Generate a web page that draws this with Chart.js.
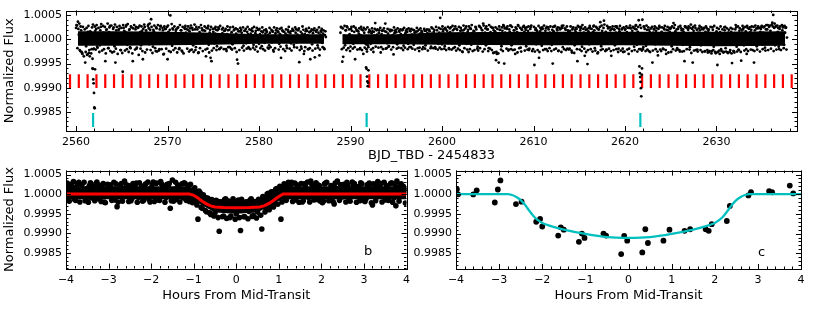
<!DOCTYPE html>
<html>
<head>
<meta charset="utf-8">
<script src="https://cdn.jsdelivr.net/npm/chart.js@4.4.1/dist/chart.umd.min.js"></script>
<style>
  body { margin: 0; background: #fff; width: 830px; height: 312px; position: relative; overflow: hidden; }
  canvas { position: absolute; }
</style>
</head>
<body>
<canvas id="lc" width="830" height="163" style="left:0;top:0"></canvas>
<canvas id="foldB" width="415" height="152" style="left:0;top:160px"></canvas>
<canvas id="foldC" width="425" height="152" style="left:405px;top:160px"></canvas>
<script>
// tick labels
const fluxTicks = [0.9985, 0.999, 0.9995, 1.0, 1.0005];
const bjdTicks = [2560, 2570, 2580, 2590, 2600, 2610, 2620, 2630];
const hourTicks = [-4, -3, -2, -1, 0, 1, 2, 3, 4];

// light curve, flux - 1 in units of 1e-5, one value per 0.1 d
const cadence = 0.1;
const startA = 2560.0;
const fluxA = [
  24, 29, 37, 10, -22, 27, -26, -30, 6, -8,
  -48, -14, -32, 16, -28, -35, 8, -20, -40, -20,
  -8, 18, 22, -15, 12, 5, -12, 26, 8, -4,
  14, -5, -45, 20, 9, -18, 15, 28, -6, 11,
  3, 25, -14, -48, 19, 7, -9, 22, 13, -22,
  10, -67, 24, -3, 16, 30, -11, 8, 20, -16,
  27, -6, -45, 12, 4, 21, -19, 9, 25, -2,
  15, -12, 18, -41, 7, 26, -8, 14, 2, 31,
  -10, 20, 42, 5, -15, 17, 11, -24, 23, 0,
  8, -20, 27, 13, -5, 19, -30, 10, 22, -9,
  -41, 16, 4, 50, 12, -13, 21, -4, 9, 18,
  -7, 24, 11, -18, 6, 19, -25, 13, 1, 22,
  14, -9, 20, -3, 17, -22, 8, 24, -12, 5,
  21, -16, 10, 2, -27, 15, 7, -5, 19, 11,
  -2, 18, -35, 9, 23, -11, 14, -38, -45, 6,
  16, -8, 12, 20, -14, 3, 22, -19, 10, -1,
  13, -6, 18, 7, -20, 11, 19, -3, -16, 9,
  15, -10, 4, 21, -7, 12, -42, -50, 8, 17,
  -4, 14, 9, -13, 18, 2, -8, 16, 11, -18,
  7, 12, -5, 17, -11, 4, 13, -15, 9, 20,
  -9, 11, 6, -14, 15, 3, -7, 12, 18, -4,
  10, -12, 14, 1, -6, 16, -25, 8, 13, -3,
  5, 15, -9, 11, -38, 7, 17, -5, 2, 12,
  -13, 9, 16, -2, 13, -8, 6, 19, -11, 4,
  14, -6, 10, 20, -47, 3, -15, 12, 8, -30,
  11, 17, -4, 9, -20, 15, -41, 6, -10, 13,
  2, -37, 18, 7, -12, 14, -33, 10, 16, -7,
  12, -18, 9, 5
];
// second set of points, offset by half a cadence
const startEdgeA = 2560.05;
const edgeA = [
  30, -18, 22, 33, -24, 19, -28, 26, -35, 21,
  -26, 24, -31, 28, -22, 17, -29, 25, 31, -19,
  27, -21, 30, -17, 24, -26, 19, 32, -23, 28,
  -20, 26, -29, 21, 33, -18, 25, -24, 29, -27,
  22, -25, 31, -19, 26, -30, 20, 28, -22, 24,
  -28, 30, 18, -23, 27, -20, 32, -26, 21, -18,
  25, -29, 23, 30, -21, 26, -17, 24, -32, 29,
  -19, 27, -24, 22, 31, -27, 19, -21, 28, 23,
  33, -22, 26, -28, 20, 29, -18, 25, -25, 30,
  -23, 21, 28, -20, 24, -31, 27, 22, -19, 26,
  29, -24, 20, -26, 32, 23, -22, 27, -18, 21,
  -27, 25, -20, 30, 19, -23, 26, -29, 24, 28,
  22, -19, 27, -25, 23, 29, -21, 20, -26, 31,
  -22, 26, 21, -28, 25, -18, 30, 23, -24, 19,
  27, -21, 24, -19, 28, -27, 20, 26, -23, 22,
  -18, 23, 26, -22, 19, 25, -20, 28, -17, 21,
  24, -20, 18, 22, -24, 27, -16, 20, 25, -19,
  -21, 26, 19, -18, 23, -26, 21, 17, -22, 24,
  20, -17, 25, -23, 18, 22, -19, 26, -16, 21,
  -20, 19, 23, -17, 26, -21, 18, 24, -25, 20,
  22, -18, 17, 25, -20, 19, -23, 21, 16, -17,
  -19, 24, -16, 20, 18, -22, 25, -18, 19, 23,
  17, -21, 22, -15, 24, 19, -20, 16, -24, 21,
  -18, 20, 26, -19, 17, -23, 22, 18, -16, 25,
  21, -17, 19, 23, -22, 16, -19, 27, 20, -24,
  -16, 22, 18, -20, 24, -18, 17, 21, -23, 19,
  23, -19, 16, 20, -17, 25, -21, 18, 22, -16,
  19, -20, 17
];
const startB = 2588.9;
const fluxB = [
  14, 25, -46, -36, 8, -12, 19, 27, 5, -3,
  11, -15, 26, 7, -9, 16, -41, 3, 18, -6,
  12, -20, 9, 21, -4, -30, 14, 2, -10, -25,
  -12, 15, 6, -9, 13, 17, -26, 8, 34, -3,
  10, -7, 14, 3, -27, 11, 19, -5, 7, 33,
  16, -8, 12, -14, 5, 20, -3, 9, -31, 13,
  2, 15, -10, 8, 18, -6, 11, -2, 21, -13,
  7, 13, -5, 16, -9, 4, 19, -16, 10, 1,
  -11, 14, 6, -4, 17, 9, -24, 12, 3, 15,
  -7, 10, 18, -12, 5, 13, -3, 20, 8, -15,
  12, -6, 16, 2, -19, 11, 7, -9, 14, 45,
  4, -10, 17, 9, -14, 21, 6, -3, 13, -20,
  15, 3, -8, 19, 11, -16, 8, 22, -5, 12,
  -12, 18, 6, -25, 14, 20, -4, 10, -9, 16,
  -26, 7, 23, -11, 13, 1, 17, -7, 25, 9,
  -15, 12, 27, 4, -9, 19, 33, -3, 14, -12,
  8, 21, -18, 11, 15, -6, 24, -28, 6, 17,
  -43, -30, 12, -48, 20, 9, -14, 18, 30, -50,
  14, -8, 22, 5, -21, 16, 29, -12, 10, 3,
  19, -30, 8, 15, 30, -5, 12, -17, 21, 7,
  -9, 16, 24, -14, 3, 18, -22, 11, 26, -4,
  13, 6, -53, 20, -10, 15, 2, -38, 17, 9,
  -13, 22, 11, -6, 18, -20, 8, 25, -2, 14,
  6, -11, -50, 17, 27, -7, 12, 19, -24, 4,
  21, 9, 28, -16, 13, -4, 20, 7, -19, 15,
  -3, 18, 10, -27, 24, 5, -12, 16, 22, -45,
  11, -8, 19, 26, -15, 8, 14, -34, 20, 2,
  -51, 17, -10, 23, 12, -6, 15, 29, -18, 9,
  13, -29, 21, 7, 36, -14, 18, 4, 39, -9,
  16, -22, 10, 25, -5, 19, -34, 12, 8, 21,
  -12, 14, 27, 3, -19, 17, 9, -7, 23, -26,
  11, 20, -9, 15, 6, -30, 24, 13, -4, 18,
  8, -15, 22, 30, -11, 16, 40, 5, -20, 12,
  41, -16, 26, 9, -13, 20, 7, -24, 15, 11,
  -6, -48, 14, 22, -10, 18, 3, -33, 12, 25,
  -9, 16, 8, -20, 21, 13, -30, 6, 19, -4,
  15, 24, -14, 10, 34, -7, 17, 2, -18, 22,
  12, -25, 9, 19, -11, 16, -45, 27, 5, -8,
  20, 13, -16, 31, 8, -48, 18, -3, 24, 10,
  -21, 14, 6, 19, -12, 22, -4, 11, -25, 16,
  9, -22, 18, -26, 13, 4, -24, 20, -15, 7,
  -28, 17, -53, 10, -23, 15, -20, 5, 12, -26,
  19, -18, 8, -27, 14, 2, -22, 16, -49, 11,
  -24, 13, 30, -15, 9, -21, 18, 6, -44, 14,
  21, -12, 7, 17, -30, 24, 3, -9, 15, 20,
  -6, 12, -48, 19, 8, -14, 23, 11, -3, 16,
  26, -10, 14, 5, -17, 21, 9, 30, -5, 13,
  18, -8, 35, 51, 24, -12, 28, 7, 16, -15,
  22, 10, -6, 19, 27, -11, 14, 25, 4
];
const startEdgeB = 2588.95;
const edgeB = [
  26, -20, 23, -17, 28, 19, -22, 25, -18, 21,
  -24, 22, 18, -19, 27, -16, 24, 20, -21, 17,
  23, -18, 26, -22, 19, 24, -17, 21, -20, 25,
  -16, 20, 17, -21, 23, -18, 16, 22, -15, 19,
  21, -17, 19, 24, -16, 18, -20, 23, 17, -19,
  -18, 22, -15, 20, 17, -21, 19, -16, 25, 18,
  20, -19, 23, -17, 16, 21, -18, 19, -22, 24,
  -17, 18, 21, -20, 23, -16, 17, 22, -19, 20,
  19, -21, 16, 24, -18, 20, -17, 23, 18, -20,
  -16, 22, -19, 18, 21, -23, 20, 17, -18, 25,
  23, -18, 20, -16, 26, 19, -21, 24, -17, 22,
  -20, 27, 21, -19, 24, -22, 18, 26, -18, 23,
  25, -21, 28, -18, 22, 27, -23, 20, -19, 26,
  -22, 24, 19, -26, 29, -18, 23, 27, -21, 20,
  27, -20, 22, 30, -24, 18, -22, 26, 21, -19,
  -23, 28, -18, 24, 20, -25, 29, -20, 23, 27,
  21, -24, 30, -19, 26, -22, 24, 19, -27, 25,
  -26, 22, -29, 27, 20, -21, 25, -24, 28, 23,
  24, -19, 27, -23, 21, 29, -20, 26, -22, 19,
  -21, 25, 22, -27, 28, -18, 24, -25, 20, 26,
  28, -23, 20, 25, -21, 27, -19, 22, 29, -24,
  -20, 26, -25, 23, 19, -22, 28, -26, 24, 21,
  25, -22, 29, -20, 23, 26, -24, 21, -18, 27,
  -24, 20, 26, -21, 28, -19, 22, 25, -23, 24,
  22, -26, 24, 29, -20, 23, -22, 27, 19, -21,
  -19, 27, -23, 21, 25, -28, 20, 24, -20, 28,
  26, -21, 23, -24, 30, 22, -19, 25, -26, 21,
  -22, 24, 28, -20, 22, -25, 27, 19, -23, 26,
  23, -27, 21, 26, -22, 29, -20, 24, 31, -24,
  -21, 28, 23, -19, 25, -24, 22, 27, -22, 20,
  27, -20, 24, -26, 22, 28, -23, 21, -19, 25,
  -25, 22, 27, -21, 24, -19, 29, 23, -24, 26,
  24, -22, 28, 21, -25, 26, -20, 30, 24, -23,
  -20, 27, 22, -24, 29, -21, 25, 20, -26, 23,
  26, -23, 21, 27, -20, 24, -25, 22, 28, -21,
  -24, 25, -19, 23, 28, -22, 20, 26, -27, 24,
  22, -26, 27, -20, 24, 30, -23, 21, -21, 26,
  -22, 28, 23, -25, 21, -24, 27, 25, -20, 23,
  27, -21, 24, -28, 22, 26, -23, 29, -22, 20,
  -25, 23, 28, -22, 25, -26, 21, 24, -24, 27,
  23, -27, 21, -24, 26, -29, 25, -22, 28, -26,
  -28, 24, -26, 22, -30, 27, -24, 21, -27, 25,
  26, -25, 23, -28, 20, -26, 24, -29, 22, -24,
  -27, 21, 25, -25, 27, -22, 23, -26, 20, 28,
  24, -23, 26, -20, 28, -24, 22, 25, -21, 27,
  -22, 26, -24, 29, 23, -21, 27, 24, -25, 22,
  28, -20, 25, 27, -23, 30, 21, -22, 26, 29,
  -19, 31, 27, -24, 33, 26, -21, 29, 24, -20,
  27, -22, 30, 25, -18, 28, 24, -21
];
// dense core of the cloud (upper / lower edge, same units)
const coreTimesA = [2560.2, 2562.0, 2565.0, 2570.0, 2575.0, 2580.0, 2587.1];
const coreHiA = [17, 17, 17, 16, 14, 11, 11];
const coreLoA = [-13, -13, -13, -12, -11, -9, -9];
const coreTimesB = [2589.1, 2595.0, 2600.0, 2610.0, 2620.0, 2630.0, 2637.5];
const coreHiB = [11, 11, 15, 16, 16, 16, 17];
const coreLoB = [-10, -10, -11, -12, -12, -14, -13];

// in-transit points of planet c
const transitTimes = [2561.80, 2561.84, 2561.88, 2561.92, 2561.96, 2562.00, 2562.03, 2562.07,
  2591.70, 2591.75, 2591.80, 2591.84, 2591.88, 2591.92, 2591.96,
  2621.58, 2621.62, 2621.66, 2621.70, 2621.74, 2621.78, 2621.82, 2621.86];
const transitFlux = [-60, -61, -83, -91, -111, -141, -143, -62,
  -58, -61, -77, -87, -97, -90, -64,
  -56, -70, -78, -88, -101, -118, -73, -60];

// transit epochs (BJD_TBD - 2454833)
const bTransits = [2559.34, 2560.30, 2561.26, 2562.23, 2563.19, 2564.15, 2565.11, 2566.07, 2567.04, 2568.00,
  2568.96, 2569.92, 2570.88, 2571.85, 2572.81, 2573.77, 2574.73, 2575.69, 2576.66, 2577.62,
  2578.58, 2579.54, 2580.50, 2581.47, 2582.43, 2583.39, 2584.35, 2585.31, 2586.28, 2587.24,
  2588.20, 2589.16, 2590.12, 2591.09, 2592.05, 2593.01, 2593.97, 2594.93, 2595.90, 2596.86,
  2597.82, 2598.78, 2599.74, 2600.71, 2601.67, 2602.63, 2603.59, 2604.55, 2605.52, 2606.48,
  2607.44, 2608.40, 2609.36, 2610.33, 2611.29, 2612.25, 2613.21, 2614.17, 2615.14, 2616.10,
  2617.06, 2618.02, 2618.98, 2619.95, 2620.91, 2621.87, 2622.83, 2623.79, 2624.76, 2625.72,
  2626.68, 2627.64, 2628.60, 2629.57, 2630.53, 2631.49, 2632.45, 2633.41, 2634.38, 2635.34,
  2636.30, 2637.26, 2638.22];
const cTransits = [2561.86, 2591.76, 2621.68];

// folded on planet b, one value per 0.05 h from -4 h, plus a second set offset by 0.025 h
const foldStep = 0.05;
const foldBFlux = [
  12, -8, 25, 5, -14, 20, 30, -3, 9, -17,
  15, 22, -10, 6, 26, -12, 3, 18, -20, 10,
  -5, 24, 13, -15, -32, 8, 27, -6, 17, 2,
  21, -11, 14, 28, -8, 4, -18, 23, 9, -13,
  16, 31, -4, 11, -16, 25, 7, -9, 19, -36,
  36, 12, -14, 22, 5, -10, 27, 14, -19, 8,
  10, -22, -64, 4, -36, -8, -45, -14, -52, -20,
  -48, -18, -95, -25, -56, -12, -42, -60, -22, -38,
  -50, -15, -93, -30, -58, -20, -44, -12, -55, -28,
  -46, -18, -89, -10, -38, 2, -30, 6, -22, 14,
  8, -64, 18, -12, 24, -6, 30, 11, -15, 20,
  4, -20, 26, 13, -9, 33, -3, 17, -14, 22,
  7, -18, 28, 10, -11, 19, -25, 14, 3, 24,
  -7, 16, 30, -13, 9, 21, -4, 12, -17, 26,
  5, -12, 23, 15, -28, 8, 19, -6, 27, 11,
  -15, 20, 4, 29, -10, -30, 17, 24, -3, 13,
  9
];
const foldBEdge = [
  28, -18, 22, 32, -16, 26, -20, 24, 30, -15,
  -21, 29, 19, -17, 31, 23, -19, 27, -22, 25,
  20, -16, 30, 26, -20, 22, -18, 33, 24, -19,
  -17, 27, 23, -21, 29, 19, -16, 26, 31, -20,
  24, -19, 28, -15, 32, 22, -21, 25, 27, -17,
  -18, 30, 23, -20, 26, 29, -16, 21, 25, -22,
  16, -28, 8, -34, -2, -42, -10, -48, -14, -56,
  -16, -60, -20, -58, -14, -62, -18, -56, -12, -64,
  -17, -60, -13, -58, -20, -63, -15, -57, -19, -61,
  -13, -54, -6, -46, 0, -40, 6, -33, 12, -26,
  20, -20, 26, -16, 30, 22, -19, 28, 24, -21,
  27, -17, 21, 31, -20, 25, -15, 29, 23, -18,
  -22, 26, 30, -17, 22, -19, 28, 33, -16, 24,
  25, -20, 23, -18, 31, 27, -21, 19, 29, -16,
  -19, 24, 28, -22, 26, -17, 32, 21, -20, 30,
  22, -16, 27, -21, 25, 33, -18, 26, 20, -23
];
const bandBHours = [-4, -1.1, -0.9, -0.7, -0.5, 0, 0.5, 0.7, 0.9, 1.1, 4];
const bandBHi = [20, 20, 10, -2, -12, -16, -12, -2, 10, 20, 20];
const bandBLo = [-13, -13, -23, -35, -47, -50, -47, -35, -23, -13, -13];
const modelBHours = [-4, -1.1, -1.0, -0.9, -0.8, -0.7, -0.6, -0.5, -0.3, 0, 0.3, 0.55, 0.65, 0.75, 0.85, 0.95, 1.05, 1.1, 4];
const modelBFlux = [0, 0, -3, -10, -18, -25, -30, -33, -34.5, -35, -34.5, -33, -30, -25, -18, -10, -3, 0, 0];

// folded on planet c
const foldCHours = [-3.98, -3.95, -3.60, -3.52, -3.10, -3.03, -2.97, -2.61, -2.48, -2.14, -2.05, -2.00,
  -1.63, -1.57, -1.50, -1.15, -1.08, -1.02, -0.58, -0.52, -0.17, -0.10, -0.03, 0.32, 0.39, 0.45,
  0.81, 0.95, 1.30, 1.43, 1.79, 1.86, 1.93, 2.28, 2.35, 2.78, 2.84, 3.26, 3.33, 3.74, 3.82];
const foldCFlux = [12.6, -0.3, -0.6, 10, -21, 12, 35, -25, -19, -70, -63, -82,
  -105, -84, -90, -121, -100, -111, -100, -105, -152, -106, -118, -148, -89, -124,
  -118, -90, -93, -89, -89, -93, -76, -68, -30, -3, 5, 8, 5, 22, 2];
const modelCHours = [-4, -2.8, -2.7, -2.6, -2.5, -2.4, -2.3, -2.2, -2.1, -2.0, -1.8, -1.5, -1.0, -0.5, 0,
  0.5, 1.0, 1.5, 1.8, 2.0, 2.1, 2.2, 2.3, 2.4, 2.5, 2.6, 2.7, 2.8, 4];
const modelCFlux = [0, 0, -2, -7, -15, -27, -42, -56, -66, -73, -81, -90, -101, -109, -111,
  -109, -101, -90, -81, -73, -66, -56, -42, -27, -15, -7, -2, 0, 0];

const f = v => 1 + v * 1e-5;
const series = (t0, step, vals) => vals.map((v, i) => ({ x: t0 + i * step, y: f(v) }));
const pairs = (xs, vals) => xs.map((x, i) => ({ x, y: f(vals[i]) }));

Chart.defaults.font.family = "'DejaVu Sans', sans-serif";
Chart.defaults.font.size = 11;
Chart.defaults.color = '#000';

const RED = '#ff0000', CYAN = '#00bfbf';

// inward ticks on all four sides, frame and panel letter
const frameTicks = {
  id: 'frameTicks',
  afterDatasetsDraw(chart, args, o) {
    const { ctx, chartArea: a } = chart;
    const { x, y } = chart.scales;
    ctx.save();
    ctx.strokeStyle = '#000';
    ctx.lineWidth = 1;
    const marks = (scale, step, len) => {
      const n0 = Math.ceil(scale.min / step - 1e-6), n1 = Math.floor(scale.max / step + 1e-6);
      ctx.beginPath();
      for (let n = n0; n <= n1; n++) {
        const p = Math.round(scale.getPixelForValue(n * step)) + 0.5;
        if (scale.isHorizontal()) {
          ctx.moveTo(p, a.bottom); ctx.lineTo(p, a.bottom - len);
          ctx.moveTo(p, a.top); ctx.lineTo(p, a.top + len);
        } else {
          ctx.moveTo(a.left, p); ctx.lineTo(a.left + len, p);
          ctx.moveTo(a.right, p); ctx.lineTo(a.right - len, p);
        }
      }
      ctx.stroke();
    };
    marks(x, o.xMinor, 2.5); marks(x, o.xMajor, 5);
    marks(y, 0.0001, 2.5); marks(y, 0.0005, 5);
    ctx.strokeRect(Math.round(a.left) + 0.5, Math.round(a.top) + 0.5,
      Math.round(a.right - a.left), Math.round(a.bottom - a.top));
    if (o.letter) {
      ctx.font = "13px 'DejaVu Sans'";
      ctx.fillStyle = '#000';
      ctx.textBaseline = 'alphabetic';
      ctx.fillText(o.letter, x.getPixelForValue(3.0), y.getPixelForValue(0.99844));
    }
    ctx.restore();
  }
};

const fmtHour = v => (v < 0 ? '\u2212' + Math.abs(v) : String(v));

function scales(xMin, xMax, xTicks, xFmt, xTitle, xHeight, yWidth, yTitle, titlePad) {
  return {
    x: {
      type: 'linear', min: xMin, max: xMax,
      afterBuildTicks: s => { s.ticks = xTicks.map(v => ({ value: v })); },
      afterFit: s => { s.height = xHeight; },
      grid: { display: false, drawTicks: false }, border: { display: false },
      ticks: { padding: 5, autoSkip: false, maxRotation: 0, callback: xFmt },
      title: { display: true, text: xTitle, font: { size: 13 }, padding: { top: 0, bottom: titlePad } }
    },
    y: {
      type: 'linear', min: 0.9981, max: 1.0006,
      afterBuildTicks: s => { s.ticks = fluxTicks.map(v => ({ value: v })); },
      afterFit: s => { s.width = yWidth; },
      grid: { display: false, drawTicks: false }, border: { display: false },
      ticks: { padding: 4, autoSkip: false, callback: v => v.toFixed(4) },
      title: { display: !!yTitle, text: yTitle, font: { size: 13 }, padding: { top: 2, bottom: 0 } }
    }
  };
}

const common = {
  responsive: false, animation: false, events: [],
  plugins: { legend: { display: false }, tooltip: { enabled: false } }
};

const band = (xs, vals, fill) => ({
  type: 'line', data: pairs(xs, vals), borderWidth: 0, pointRadius: 0,
  backgroundColor: '#000', fill, order: 4, tension: 0
});
const dots = (data, r, order) => ({ data, pointRadius: r, backgroundColor: '#000', borderWidth: 0, order });

new Chart(document.getElementById('lc'), {
  type: 'scatter',
  data: {
    datasets: [
      { data: bTransits.map(t => ({ x: t, y: 0.999135 })), pointStyle: 'line', rotation: 90,
        pointRadius: 6.8, borderColor: RED, borderWidth: 2.2, order: 5 },
      { data: cTransits.map(t => ({ x: t, y: 0.99833 })), pointStyle: 'line', rotation: 90,
        pointRadius: 7, borderColor: CYAN, borderWidth: 2.2, order: 5 },
      band(coreTimesA, coreHiA, '+1'), band(coreTimesA, coreLoA, false),
      band(coreTimesB, coreHiB, '+1'), band(coreTimesB, coreLoB, false),
      dots(series(startEdgeA, cadence, edgeA).concat(series(startEdgeB, cadence, edgeB)), 1.4, 2),
      dots(series(startA, cadence, fluxA).concat(series(startB, cadence, fluxB)), 1.4, 1),
      dots(pairs(transitTimes, transitFlux), 1.4, 0)
    ]
  },
  options: {
    ...common,
    layout: { padding: { left: 0, right: 33, top: 6, bottom: 0 } },
    scales: scales(2558.9, 2638.8, bjdTicks, v => String(v), 'BJD_TBD - 2454833', 32, 66, 'Normalized Flux', 0),
    plugins: { ...common.plugins, frameTicks: { xMinor: 2, xMajor: 10 } }
  },
  plugins: [frameTicks]
});

new Chart(document.getElementById('foldB'), {
  type: 'scatter',
  data: {
    datasets: [
      { type: 'line', data: pairs(modelBHours, modelBFlux), borderColor: RED, borderWidth: 3,
        pointRadius: 0, fill: false, tension: 0, order: 0 },
      band(bandBHours, bandBHi, '+1'), band(bandBHours, bandBLo, false),
      dots(series(-3.975, foldStep, foldBEdge), 2.8, 3),
      dots(series(-4, foldStep, foldBFlux), 2.8, 2)
    ]
  },
  options: {
    ...common,
    layout: { padding: { left: 0, right: 4.3, top: 10, bottom: 0 } },
    scales: scales(-4, 4, hourTicks, fmtHour, 'Hours From Mid-Transit', 43.5, 66, 'Normalized Flux', 8.2),
    plugins: { ...common.plugins, frameTicks: { xMinor: 0.2, xMajor: 1, letter: 'b' } }
  },
  plugins: [frameTicks]
});

new Chart(document.getElementById('foldC'), {
  type: 'scatter',
  data: {
    datasets: [
      { type: 'line', data: pairs(modelCHours, modelCFlux), borderColor: CYAN, borderWidth: 2.3,
        pointRadius: 0, fill: false, tension: 0.3, cubicInterpolationMode: 'monotone', order: 0 },
      dots(pairs(foldCHours, foldCFlux), 2.9, 2)
    ]
  },
  options: {
    ...common,
    layout: { padding: { left: 0, right: 29, top: 10, bottom: 0 } },
    scales: scales(-4, 4, hourTicks, fmtHour, 'Hours From Mid-Transit', 43, 51, '', 8.2),
    plugins: { ...common.plugins, frameTicks: { xMinor: 0.2, xMajor: 1, letter: 'c' } }
  },
  plugins: [frameTicks]
});
</script>
</body>
</html>
